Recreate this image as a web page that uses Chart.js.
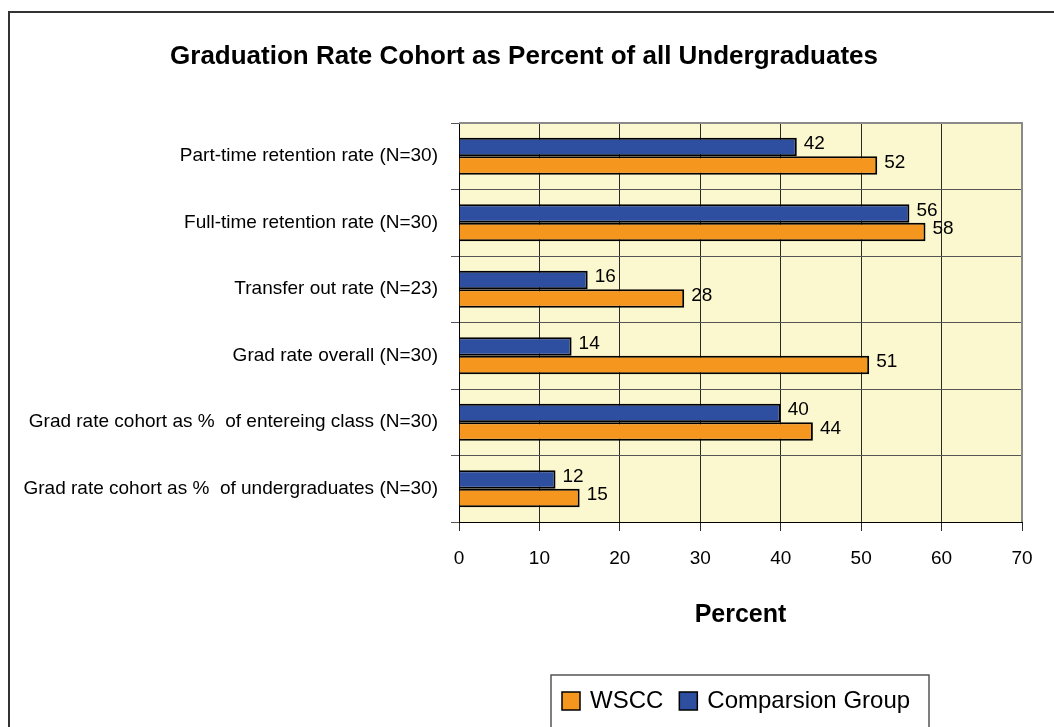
<!DOCTYPE html>
<html>
<head>
<meta charset="utf-8">
<script src="https://cdn.jsdelivr.net/npm/chart.js@4/dist/chart.umd.min.js"></script>
<style>
  html, body { margin: 0; padding: 0; background: #fff; }
  canvas { display: block; }
</style>
</head>
<body>
<canvas id="chart" width="1054" height="727"></canvas>
<script>
// categories, top to bottom
const categories = [
    'Part-time retention rate (N=30)',
    'Full-time retention rate (N=30)',
    'Transfer out rate (N=23)',
    'Grad rate overall (N=30)',
    'Grad rate cohort as %  of entereing class (N=30)',
    'Grad rate cohort as %  of undergraduates (N=30)'
];
const comparisonValues = [42, 56, 16, 14, 40, 12];
const wsccValues = [52, 58, 28, 51, 44, 15];
const xTickValues = [0, 10, 20, 30, 40, 50, 60, 70];

const chartTitle = 'Graduation Rate Cohort as Percent of all Undergraduates';
const axisTitle = 'Percent';

const FONT = "'Liberation Sans', Arial, sans-serif";
const ORANGE = '#F5961F';
const BLUE = '#2E4F9F';

// extra drawing: frame, title, axis title, legend, value labels
const decorPlugin = {
    id: 'decor',
    beforeDraw(chart) {
        const { ctx, chartArea: a } = chart;
        ctx.save();
        ctx.fillStyle = '#FBF7CE';
        ctx.fillRect(a.left, a.top, a.right - a.left, a.bottom - a.top);
        ctx.restore();
    },
    afterDraw(chart) {
        const { ctx, chartArea: a } = chart;
        ctx.save();

        // outer frame
        ctx.strokeStyle = '#333';
        ctx.lineWidth = 2;
        ctx.strokeRect(9, 12, 1060, 740);

        // plot border top / right
        ctx.strokeStyle = '#8a8a8a';
        ctx.lineWidth = 2;
        ctx.beginPath();
        ctx.moveTo(a.left, a.top);
        ctx.lineTo(a.right, a.top);
        ctx.lineTo(a.right, a.bottom);
        ctx.stroke();

        // title
        ctx.fillStyle = '#000';
        ctx.font = 'bold 26px ' + FONT;
        ctx.textAlign = 'center';
        ctx.textBaseline = 'middle';
        ctx.fillText(chartTitle, 524, 57);

        // axis title
        ctx.font = 'bold 25px ' + FONT;
        ctx.fillText(axisTitle, (a.left + a.right) / 2, 615);

        // value labels
        ctx.font = '19px ' + FONT;
        ctx.textAlign = 'left';
        chart.data.datasets.forEach((ds, i) => {
            chart.getDatasetMeta(i).data.forEach((bar, j) => {
                ctx.fillText(String(ds.data[j]), bar.x + 7, bar.y - 3);
            });
        });

        // legend
        const boxL = 551, boxT = 675, boxR = 929;
        ctx.fillStyle = '#fff';
        ctx.fillRect(boxL, boxT, boxR - boxL, 60);
        ctx.strokeStyle = '#555';
        ctx.lineWidth = 1.5;
        ctx.strokeRect(boxL, boxT, boxR - boxL, 60);
        const items = [
            { label: 'WSCC', color: ORANGE },
            { label: 'Comparsion Group', color: BLUE }
        ];
        ctx.font = '24px ' + FONT;
        ctx.textBaseline = 'middle';
        let x = boxL + 11;
        const cy = 701;
        items.forEach(it => {
            ctx.fillStyle = it.color;
            ctx.fillRect(x, cy - 9, 18, 18);
            ctx.strokeStyle = '#000';
            ctx.lineWidth = 1.5;
            ctx.strokeRect(x, cy - 9, 18, 18);
            ctx.fillStyle = '#000';
            ctx.fillText(it.label, x + 28, cy);
            x += 28 + ctx.measureText(it.label).width + 16;
        });

        ctx.restore();
    }
};

new Chart(document.getElementById('chart'), {
    type: 'bar',
    data: {
        labels: categories,
        datasets: [
            {
                label: 'Comparsion Group',
                data: comparisonValues,
                backgroundColor: BLUE,
                borderColor: '#000',
                borderWidth: 2,
                categoryPercentage: 0.56,
                barPercentage: 1.0
            },
            {
                label: 'WSCC',
                data: wsccValues,
                backgroundColor: ORANGE,
                borderColor: '#000',
                borderWidth: 2,
                categoryPercentage: 0.56,
                barPercentage: 1.0
            }
        ]
    },
    options: {
        indexAxis: 'y',
        responsive: false,
        animation: false,
        layout: { padding: { top: 123, right: 32, bottom: 0, left: 0 } },
        plugins: {
            legend: { display: false },
            title: { display: false },
            tooltip: { enabled: false }
        },
        scales: {
            x: {
                min: 0,
                max: 70,
                afterBuildTicks: s => { s.ticks = xTickValues.map(v => ({ value: v })); },
                afterFit: s => { s.height = 205; },
                ticks: { color: '#000', font: { family: FONT, size: 19 }, padding: 16 },
                grid: { color: '#2a2a2a', lineWidth: 1, tickLength: 9 },
                border: { color: '#000', width: 1 }
            },
            y: {
                afterFit: s => { s.width = 459; },
                ticks: { color: '#000', font: { family: FONT, size: 19 }, padding: 13 },
                grid: { color: '#555', lineWidth: 1, tickLength: 8, offset: true },
                border: { color: '#000', width: 1 }
            }
        }
    },
    plugins: [decorPlugin]
});
</script>
</body>
</html>
